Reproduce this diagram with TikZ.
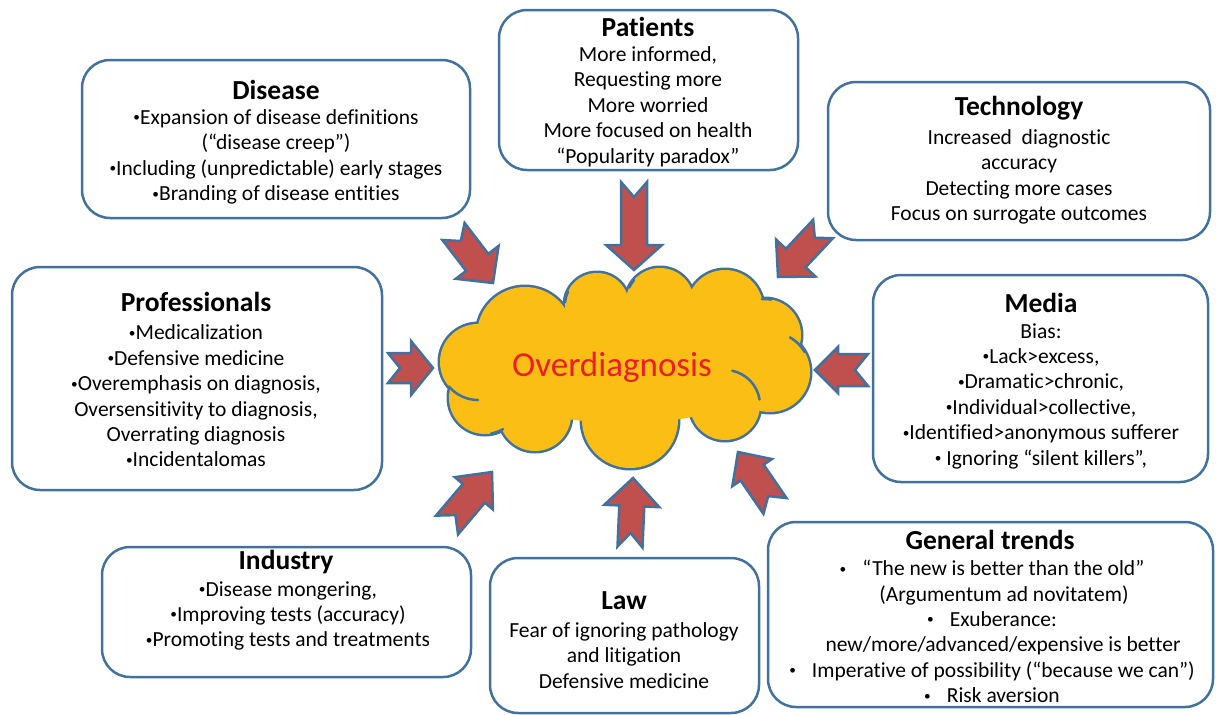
\documentclass[tikz,border=0pt]{standalone}
\usepackage{fontspec}
\setmainfont{Carlito}[Ligatures=NoCommon]
\usetikzlibrary{calc}
\definecolor{bblue}{RGB}{65,113,156}
\definecolor{afill}{RGB}{192,80,77}
\definecolor{cfill}{RGB}{251,190,20}
\definecolor{cred}{RGB}{235,30,36}
\newcommand\bul{\raisebox{0.12em}{\scalebox{0.62}{•}}}
\newcommand\notcharrow[7]{%
  \coordinate (#1-h) at ($(#3)!#6pt!(#2)$);
  \coordinate (#1-n) at ($(#2)!#7pt!(#3)$);
  \filldraw[blockarrow] ($(#2)!#4pt!90:(#3)$) -- ($(#1-h)!#4pt!90:(#3)$) -- ($(#1-h)!#5pt!90:(#3)$) -- (#3)
    -- ($(#1-h)!#5pt!-90:(#3)$) -- ($(#1-h)!#4pt!-90:(#3)$) -- ($(#2)!#4pt!-90:(#3)$) -- (#1-n) -- cycle;
}
\tikzset{
  box/.style={draw=bblue, line width=2.5pt, rounded corners=28pt, fill=white, inner sep=0pt, outer sep=0pt},
  title/.style={font=\bfseries\fontsize{27.5}{30}\selectfont, inner sep=0pt},
  body/.style={font=\fontsize{21.5}{25.4}\selectfont, align=center, inner sep=0pt},
  blockarrow/.style={fill=afill, draw=bblue, line width=2.5pt, line join=miter},
  cloudline/.style={draw=bblue, line width=5pt},
  cloudinner/.style={draw=bblue, line width=2.5pt, line cap=round},
}
\begin{document}
\begin{tikzpicture}[x=1pt, y=-1pt]
\useasboundingbox (0,0) rectangle (1216,715);
% boxes
\node[box, minimum width=388pt, minimum height=158pt] (diseasebox) at (276,139) {};
\node[box, minimum width=299pt, minimum height=160pt] (patientsbox) at (648.5,90) {};
\node[box, minimum width=382pt, minimum height=158pt] (techbox) at (1019,161) {};
\node[box, minimum width=370pt, minimum height=223pt] (profbox) at (197,378.5) {};
\node[box, minimum width=335pt, minimum height=207pt] (mediabox) at (1040.5,378.5) {};
\node[box, minimum width=369pt, minimum height=130pt] (industrybox) at (286.5,612) {};
\node[box, minimum width=269pt, minimum height=155pt] (lawbox) at (624.5,635.5) {};
\node[box, minimum width=445pt, minimum height=185pt] (trendsbox) at (990.5,614.5) {};
% texts
\node[title] (diseaset) at (276,90) {Disease};
\node[body] (diseaseb) at (276,157) {\bul Expansion of disease definitions\\(“disease creep”)\\\bul Including (unpredictable) early stages\\\bul Branding of disease entities};
\node[title] (patientst) at (648,27) {Patients};
\node[body] (patientsb) at (648,106.5) {More informed,\\Requesting more\\More worried\\More focused on health\\“Popularity paradox”};
\node[title] (techt) at (1019,108) {Technology};
\node[body] (techb) at (1019,177) {Increased\ \ diagnostic\\accuracy\\Detecting more cases\\Focus on surrogate outcomes};
\node[title] (proft) at (196,302) {Professionals};
\node[body] (profb) at (196,396) {\bul Medicalization\\\bul Defensive medicine\\\bul Overemphasis on diagnosis,\\Oversensitivity to diagnosis,\\Overrating diagnosis\\\bul Incidentalomas};
\node[title] (mediat) at (1041,303) {Media};
\node[body] (mediab) at (1041,396) {Bias:\\\bul Lack>excess,\\\bul Dramatic>chronic,\\\bul Individual>collective,\\\bul Identified>anonymous sufferer\\\bul\ Ignoring “silent killers”,};
\node[title] (industryt) at (286,562) {Industry};
\node[body] (industryb) at (288,616) {\bul Disease mongering,\\\bul Improving tests (accuracy)\\\bul Promoting tests and treatments};
\node[title] (lawt) at (624,601) {Law};
\node[body] (lawb) at (624,655.5) {Fear of ignoring pathology\\and litigation\\Defensive medicine};
\node[title] (trendst) at (990,540) {General trends};
\node[body] (trendsb) at (992,631.5) {\bul\hspace{16pt}“The new is better than the old”\\\hspace{24pt}(Argumentum ad novitatem)\\\bul\hspace{16pt}Exuberance:\\\hspace{22pt}new/more/advanced/expensive is better\\\bul\hspace{16pt}Imperative of possibility (“because we can”)\\\bul\hspace{16pt}Risk aversion};
% cloud
\foreach \cx/\cy/\r in {525/335/48, 597/305/32, 660/302/34, 725/308/38, 765/335/36, 770/372/40, 725/405/35, 630/420/48, 535/415/36, 485/398/36, 478/362/38}
  \draw[cloudline] (\cx,\cy) circle[radius=\r];
\foreach \cx/\cy/\r in {525/335/48, 597/305/32, 660/302/34, 725/308/38, 765/335/36, 770/372/40, 725/405/35, 630/420/48, 535/415/36, 485/398/36, 478/362/38}
  \fill[cfill] (\cx,\cy) circle[radius=\r];
\fill[cfill] (624,368) ellipse[x radius=150, y radius=55];
% inner arcs of the cloud
\draw[cloudinner] ([shift={(282:35)}]725,405) arc[start angle=282, end angle=351, radius=35];
\draw[cloudinner] ([shift={(90:38)}]478,362) arc[start angle=90, end angle=140, radius=38];
\draw[cloudinner] ([shift={(185:32)}]597,305) arc[start angle=185, end angle=205, radius=32];
\draw[cloudinner] ([shift={(300:40)}]770,372) arc[start angle=300, end angle=330, radius=40];
\draw[cloudinner] ([shift={(60:36)}]485,398) arc[start angle=60, end angle=80, radius=36];
\draw[cloudinner] ([shift={(205:34)}]660,302) arc[start angle=205, end angle=220, radius=34];
\draw[cloudinner] ([shift={(265:36)}]765,335) arc[start angle=265, end angle=280, radius=36];
\node[font=\fontsize{35}{38}\selectfont, text=cred, inner sep=0pt] (cloud) at (612,367) {Overdiagnosis};
% arrows
\coordinate (a1t) at (453.5,231.5); \coordinate (a1p) at (493,283);
\coordinate (a2t) at (634,182);     \coordinate (a2p) at (634,270);
\coordinate (a3t) at (823,229);     \coordinate (a3p) at (778,277);
\coordinate (a4t) at (868,370);     \coordinate (a4p) at (815,370);
\coordinate (a5t) at (388,368);     \coordinate (a5p) at (433,368);
\coordinate (a6t) at (775,506);     \coordinate (a6p) at (738,452);
\coordinate (a7t) at (447,525);     \coordinate (a7p) at (492,472);
\coordinate (a8t) at (630,547);     \coordinate (a8p) at (633,478);
\notcharrow{A1}{a1t}{a1p}{14}{27}{26}{12}
\notcharrow{A2}{a2t}{a2p}{13}{28}{25}{15}
\notcharrow{A3}{a3t}{a3p}{13.5}{27}{26}{12}
\notcharrow{A4}{a4t}{a4p}{16}{23}{23}{13}
\notcharrow{A5}{a5t}{a5p}{15}{27}{22}{12}
\notcharrow{A6}{a6t}{a6p}{14}{24}{25}{12}
\notcharrow{A7}{a7t}{a7p}{14.5}{25}{28}{13}
\notcharrow{A8}{a8t}{a8p}{12.5}{27.5}{28}{14}
\end{tikzpicture}
\end{document}
